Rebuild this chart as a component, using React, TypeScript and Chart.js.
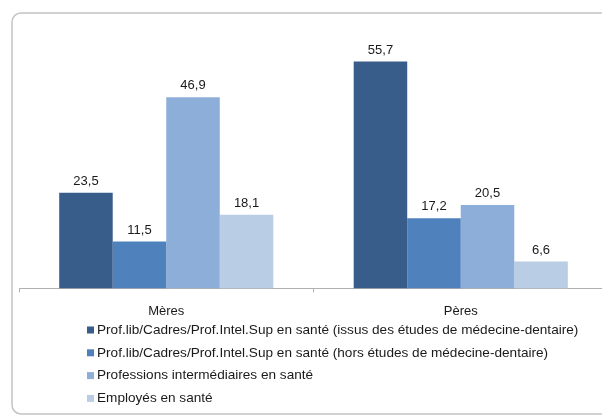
import React, { useEffect, useRef } from "react";
import { Chart, registerables } from "chart.js";

Chart.register(...registerables);

const categories = ["Mères", "Pères"];
const seriesLabels = [
  "Prof.lib/Cadres/Prof.Intel.Sup en santé (issus des études de médecine-dentaire)",
  "Prof.lib/Cadres/Prof.Intel.Sup en santé (hors études de médecine-dentaire)",
  "Professions intermédiaires en santé",
  "Employés en santé",
];
const seriesProfLibMed = [23.5, 55.7];
const seriesProfLibHors = [11.5, 17.2];
const seriesIntermediaires = [46.9, 20.5];
const seriesEmployes = [18.1, 6.6];
const seriesColors = ["#385D8A", "#4F81BD", "#8CAED8", "#B9CDE5"];

const FONT = "'Liberation Sans', Arial, sans-serif";

const boxPlugin = {
  id: "boxPlugin",
  beforeDraw(chart: any) {
    const ctx = chart.ctx;
    ctx.save();
    ctx.fillStyle = "#ffffff";
    ctx.fillRect(0, 0, chart.width, chart.height);
    const x = 12, y = 13, w = chart.width + 40, h = 414 - 13, r = 9;
    ctx.beginPath();
    ctx.moveTo(x + w, y);
    ctx.lineTo(x + r, y);
    ctx.arcTo(x, y, x, y + r, r);
    ctx.lineTo(x, y + h - r);
    ctx.arcTo(x, y + h, x + r, y + h, r);
    ctx.lineTo(x + w, y + h);
    ctx.strokeStyle = "#c4c4c4";
    ctx.lineWidth = 1.5;
    ctx.stroke();
    ctx.restore();
  },
};

const valueLabelPlugin = {
  id: "valueLabelPlugin",
  afterDatasetsDraw(chart: any) {
    const ctx = chart.ctx;
    ctx.save();
    ctx.font = `13px ${FONT}`;
    ctx.fillStyle = "#1a1a1a";
    ctx.textAlign = "center";
    ctx.textBaseline = "alphabetic";
    chart.data.datasets.forEach((ds: any, i: number) => {
      const meta = chart.getDatasetMeta(i);
      meta.data.forEach((el: any, j: number) => {
        const v = ds.data[j];
        ctx.fillText(v.toFixed(1).replace(".", ","), el.x, el.y - 8);
      });
    });
    ctx.restore();
  },
};

const legendPlugin = {
  id: "customLegend",
  afterDraw(chart: any) {
    const ctx = chart.ctx;
    ctx.save();
    ctx.font = `13.6px ${FONT}`;
    ctx.textAlign = "left";
    ctx.textBaseline = "middle";
    chart.data.datasets.forEach((ds: any, i: number) => {
      const yc = 330 + i * 22.8;
      ctx.fillStyle = ds.backgroundColor;
      ctx.fillRect(87, yc - 3.5, 7, 7);
      ctx.fillStyle = "#1a1a1a";
      ctx.fillText(ds.label, 97, yc);
    });
    ctx.restore();
  },
};

export default function App() {
  const ref = useRef<HTMLCanvasElement>(null);
  useEffect(() => {
    document.body.style.margin = "0";
    const values = [seriesProfLibMed, seriesProfLibHors, seriesIntermediaires, seriesEmployes];
    const chart = new Chart(ref.current!, {
      type: "bar",
      data: {
        labels: categories,
        datasets: values.map((d, i) => ({
          label: seriesLabels[i],
          data: d,
          backgroundColor: seriesColors[i],
          borderWidth: 0,
          barPercentage: 1.0,
          categoryPercentage: 0.727,
        })),
      },
      options: {
        responsive: false,
        animation: false,
        devicePixelRatio: 1,
        layout: { padding: { left: 19, right: 4, top: 44, bottom: 87 } },
        plugins: {
          legend: { display: false },
          tooltip: { enabled: false },
        },
        scales: {
          y: { display: false, min: 0, max: 60 },
          x: {
            offset: true,
            grid: {
              offset: true,
              drawOnChartArea: false,
              drawTicks: true,
              tickLength: 4,
              color: "#b0b0b0",
            },
            border: { display: true, color: "#b0b0b0", width: 1 },
            ticks: {
              color: "#1a1a1a",
              font: { size: 13, family: FONT },
              padding: 11,
            },
          },
        },
      },
      plugins: [boxPlugin, valueLabelPlugin, legendPlugin],
    });
    return () => chart.destroy();
  }, []);
  return (
    <div style={{ width: 602, height: 417, overflow: "hidden", position: "relative" }}>
      <canvas ref={ref} width={612} height={417} style={{ display: "block", width: 612, height: 417 }} />
    </div>
  );
}
